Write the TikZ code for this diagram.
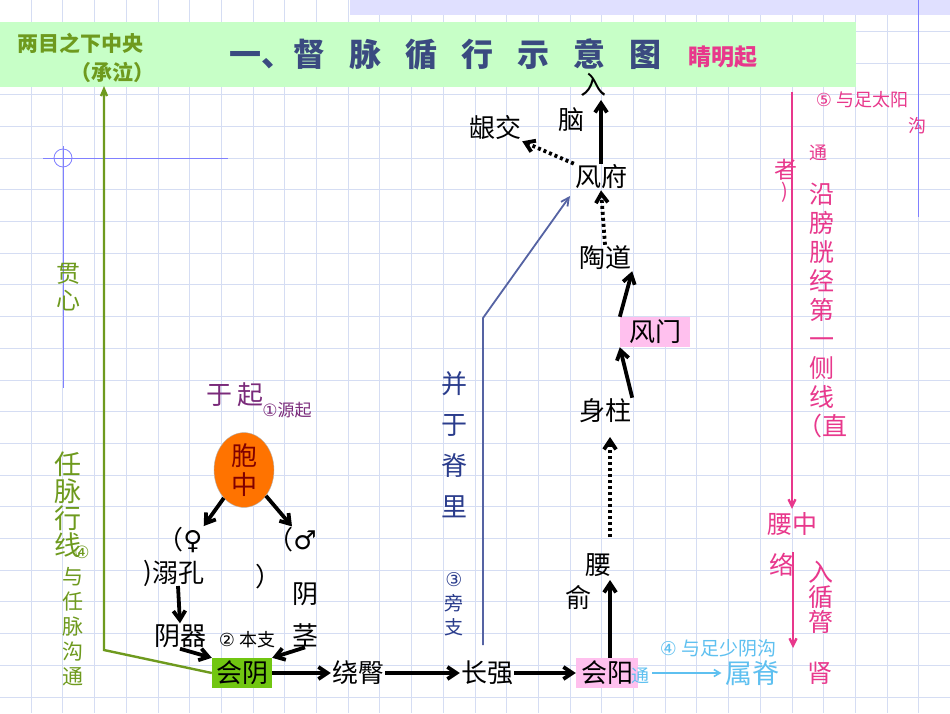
\documentclass[tikz,border=0pt]{standalone}
\usepackage{fontspec}
\setmainfont{Noto Sans CJK SC}
\newfontfamily\sym{DejaVu Sans}
\usetikzlibrary{arrows.meta,shapes.geometric}
\definecolor{gridc}{HTML}{D5DDF3}
\definecolor{olive}{HTML}{6E9A1E}
\definecolor{pinkc}{HTML}{E8388C}
\definecolor{navy}{HTML}{2A3C8C}
\definecolor{titlec}{HTML}{3A4A80}
\definecolor{lblue}{HTML}{5EC0F0}
\definecolor{purp}{HTML}{7A2A7A}
\begin{document}
\begin{tikzpicture}[x=1pt,y=-1pt,
  fs/.style={font=\fontsize{#1}{#1}\selectfont},
  bfs/.style={font=\fontsize{#1}{#1}\selectfont\bfseries},
  lab/.style={fs=26,inner sep=1pt},
  thick arrow/.style={line width=3.8pt,-{Straight Barb[length=9pt,width=12pt]}},
  dot arrow/.style={line width=3.8pt,dash pattern=on 3pt off 3pt,-{Straight Barb[length=9pt,width=12pt]}},
  vt/.style={align=center,inner sep=0pt}]
\useasboundingbox (0,0) rectangle (950,713);
\fill[white] (0,0) rectangle (950,713);
\foreach \k in {-14,...,15} \draw[gridc,line width=1pt] (443.3+31.7*\k,0) -- (443.3+31.7*\k,713);
\foreach \k in {-12,...,11} \draw[gridc,line width=1pt] (0,380+31.7*\k) -- (950,380+31.7*\k);
\fill[blue!12] (350,0) rectangle (950,15);
\fill[green!22] (0,22) rectangle (856,87);
\draw[blue!50,line width=0.8pt] (918,0) -- (918,217);
\draw[blue!50,line width=0.8pt] (63,158) circle (9);
\draw[blue!50,line width=0.8pt] (43,158) -- (228,158);
\draw[blue!50,line width=0.8pt] (63,146) -- (63,388);
\node[bfs=32,text=titlec] (title) at (445,54) {一、督\hspace{24pt}脉\hspace{24pt}循\hspace{24pt}行\hspace{24pt}示\hspace{24pt}意\hspace{24pt}图};
\node[bfs=23,text=pinkc] (jm) at (723,57) {睛明起};
\node[bfs=21,text=olive] (t1) at (80,43) {两目之下中央};
\node[bfs=21,text=olive] (t2) at (112,72) {（承泣）};
\coordinate (g0) at (104,650);
\coordinate (g1) at (104,86);
\node[fs=24,vt,text=olive] (gx) at (68,287) {贯\\[3pt]心};
\node[fs=27,vt,text=olive] (rm) at (68,505) {任\\[0pt]脉\\[0pt]行\\[0pt]线};
\node[fs=17,text=olive] (c4) at (82,552) {\sym ④};
\node[fs=21,vt,text=olive] (yr) at (73,627) {与\\[4pt]任\\[4pt]脉\\[4pt]沟\\[4pt]通};
\node[fs=26,text=purp] (yq) at (235,395) {于 起};
\node[fs=17,text=purp] (yq2) at (287,410) {{\sym ①}源起};
\node[ellipse,fill=orange!90!red,draw=gray!60,minimum width=60pt,minimum height=74pt,inner sep=0pt,fs=26,align=center,text=red!50!black] (bz) at (244,470) {胞\\[3pt]中};
\node[lab] (nv) at (180,540) {（{\sym ♀}};
\node[lab] (nk) at (178,573) {溺孔};
\node[lab] (ps1) at (148,573) {)};
\node[lab] (nm) at (292,540) {（{\sym ♂}};
\node[lab] (ps2) at (268,577) {）};
\node[lab,vt] (yj) at (305,615) {阴\\[16pt]茎};
\node[lab] (yq3) at (180,636) {阴器};
\node[fs=18] (bzh) at (247,640) {{\sym ②} 本支};
\node[lab,fill=olive!70!green!80!yellow,minimum width=60pt,minimum height=30pt,inner sep=0pt] (hy) at (242,673) {会阴};
\node[lab] (rt) at (358,673) {绕臀};
\node[lab] (cq) at (487,673) {长强};
\node[lab,fill=pink!60!magenta!45,minimum width=62pt,minimum height=30pt,inner sep=0pt] (hyang) at (607,673) {会阳};
\node[lab] (ys1) at (598,565) {腰};
\node[lab] (ys2) at (578,597) {俞};
\node[lab] (sz) at (605,411) {身柱};
\node[lab,fill=pink!60!magenta!45,minimum width=70pt,minimum height=30pt,inner sep=0pt] (fm) at (655,332) {风门};
\node[lab] (td) at (605,258) {陶道};
\node[lab] (ff) at (601,177) {风府};
\node[lab] (nao) at (571,120) {脑};
\node[lab] (ru) at (593,85) {入};
\node[lab] (yjiao) at (495,128) {龈交};
\node[fs=26,vt,text=navy] (bl) at (454,445) {并\\[15pt]于\\[15pt]脊\\[15pt]里};
\node[fs=19,vt,text=navy] (pz) at (454,604) {{\sym ③}\\[5pt]旁\\[5pt]支};
\node[fs=18,text=pinkc] (p5) at (862,100) {{\sym ⑤} 与足太阳};
\node[fs=18,text=pinkc] (p5b) at (917,126) {沟};
\node[fs=18,text=pinkc] (p5c) at (818,153) {通};
\node[fs=23,text=pinkc] (p5d) at (786,170) {者};
\node[fs=20,text=pinkc] (p5e) at (785,192) {)};
\node[fs=25,text=pinkc,vt] (yp) at (822,310) {沿\\[4pt]膀\\[4pt]胱\\[4pt]经\\[4pt]第\\[4pt]一\\[4pt]侧\\[4pt]线\\[4pt]（直};
\node[fs=25,text=pinkc] (yz) at (792,524) {腰中};
\node[fs=25,text=pinkc] (luo) at (782,565) {络};
\node[fs=25,vt,text=pinkc] (rxl) at (821,597) {入\\[0pt]循\\[0pt]膂};
\node[fs=25,text=pinkc] (shen) at (820,673) {肾};
\node[fs=19,text=lblue] (p4) at (718,648) {{\sym ④} 与足少阴沟};
\node[fs=18,text=lblue] (p4b) at (640,676) {通};
\node[fs=27,text=lblue] (sj) at (752,673) {属脊};
\draw[olive,line width=2.4pt,-{Straight Barb[length=7pt,width=6pt]}] (hy.west) -- (g0) -- (g1);
\draw[navy!80,line width=1.8pt,-{Straight Barb[length=8pt,width=8pt]}] (483,645) -- (483,318) -- (570,196);
\draw[thick arrow] (bz) -- (nv.north east);
\draw[thick arrow] (bz) -- (nm.north);
\draw[thick arrow] (nk.south) -- (yq3.north);
\draw[thick arrow] (yq3.south) -- (hy.north west);
\draw[thick arrow] (yj.south) -- (hy.north east);
\draw[thick arrow] (hy) -- (rt);
\draw[thick arrow] (rt) -- (cq);
\draw[thick arrow] (cq) -- (hyang);
\draw[thick arrow] (hyang.north) ++(3,0) -- (610,580);
\draw[dot arrow] (610,537) -- (610,437);
\draw[thick arrow] (sz.north east) -- (fm.south west);
\draw[thick arrow] (fm.north west) -- (td.south east);
\draw[dot arrow] (td.north) -- (ff.south);
\draw[thick arrow] (ff.north) -- (601,100);
\draw[dot arrow] (ff.north west) -- (yjiao.south east);
\draw[pinkc,line width=2.4pt,-{Straight Barb[length=7pt,width=7pt]}] (792,92) -- (yz.north);
\draw[pinkc,line width=2.4pt,-{Straight Barb[length=7pt,width=7pt]}] (793,552) -- (793,648);
\draw[lblue,line width=1.6pt,-{Straight Barb[length=6pt,width=7pt]}] (652,673) -- (sj.west);
\end{tikzpicture}
\end{document}
